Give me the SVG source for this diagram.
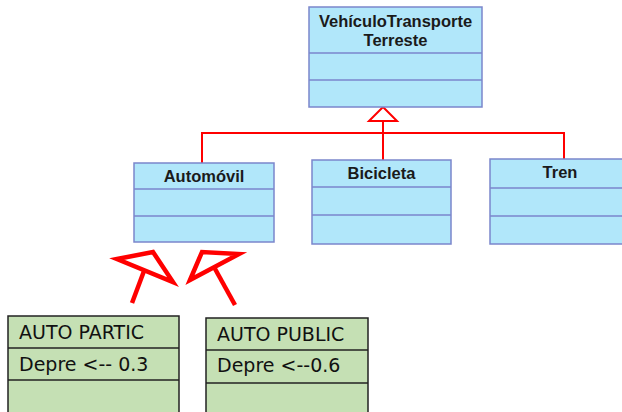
<svg xmlns="http://www.w3.org/2000/svg" width="622" height="412" viewBox="0 0 622 412">
<defs>
<style>
.cls{fill:#b1e7fa;stroke:#7b86cc;stroke-width:1.5}
.div{stroke:#7b86cc;stroke-width:1.5}
.t{font-family:"Liberation Sans",Arial,sans-serif;font-weight:bold;font-size:16.5px;fill:#1a1a1a;text-anchor:middle}
.g{fill:#c5e0b4;stroke:#222;stroke-width:1.5}
.gd{stroke:#222;stroke-width:1.5}
.gt{font-family:"DejaVu Sans",Verdana,sans-serif;font-size:19px;fill:#111}
.conn{fill:none;stroke:#ff0000;stroke-width:2}
.big{fill:none;stroke:#ff0000;stroke-width:4.5;stroke-linejoin:miter}
</style>
</defs>
<rect width="622" height="412" fill="#ffffff"/>
<g id="connectors">
<path class="conn" d="M202,163 V133 H564 V159"/>
<path class="conn" d="M383,133 V160"/>
<path class="conn" d="M383,133 V121"/>
<polygon class="conn" points="383,107 369,121 397,121" fill="#ffffff"/>
<line class="big" x1="132" y1="303" x2="144" y2="271"/>
<polygon class="big" points="117,259 153,252 173,282"/>
<line class="big" x1="235" y1="305" x2="214" y2="267"/>
<polygon class="big" points="190,280 202,252 239,254"/>
</g>
<g id="vehiculo">
<rect class="cls" x="309" y="7" width="173" height="100"/>
<line class="div" x1="309" y1="53" x2="482" y2="53"/>
<line class="div" x1="309" y1="80" x2="482" y2="80"/>
<text class="t" x="395.5" y="27">VehículoTransporte</text>
<text class="t" x="395.5" y="46">Terreste</text>
</g>
<g id="automovil">
<rect class="cls" x="134" y="163" width="140" height="79"/>
<line class="div" x1="134" y1="189" x2="274" y2="189"/>
<line class="div" x1="134" y1="216" x2="274" y2="216"/>
<text class="t" x="204" y="182">Automóvil</text>
</g>
<g id="bicicleta">
<rect class="cls" x="312" y="160" width="139" height="84"/>
<line class="div" x1="312" y1="187" x2="451" y2="187"/>
<line class="div" x1="312" y1="215" x2="451" y2="215"/>
<text class="t" x="381.5" y="179">Bicicleta</text>
</g>
<g id="tren">
<rect class="cls" x="490" y="159" width="140" height="85"/>
<line class="div" x1="490" y1="188" x2="630" y2="188"/>
<line class="div" x1="490" y1="216" x2="630" y2="216"/>
<text class="t" x="560" y="178">Tren</text>
</g>
<g id="autopartic">
<rect class="g" x="8" y="316" width="171" height="100"/>
<line class="gd" x1="8" y1="348" x2="179" y2="348"/>
<line class="gd" x1="8" y1="380" x2="179" y2="380"/>
<text class="gt" x="19" y="339">AUTO PARTIC</text>
<text class="gt" x="19" y="371">Depre &lt;-- 0.3</text>
</g>
<g id="autopublic">
<rect class="g" x="206" y="318" width="162" height="100"/>
<line class="gd" x1="206" y1="350" x2="368" y2="350"/>
<line class="gd" x1="206" y1="383" x2="368" y2="383"/>
<text class="gt" x="217" y="341">AUTO PUBLIC</text>
<text class="gt" x="217" y="372">Depre &lt;--0.6</text>
</g>
</svg>
